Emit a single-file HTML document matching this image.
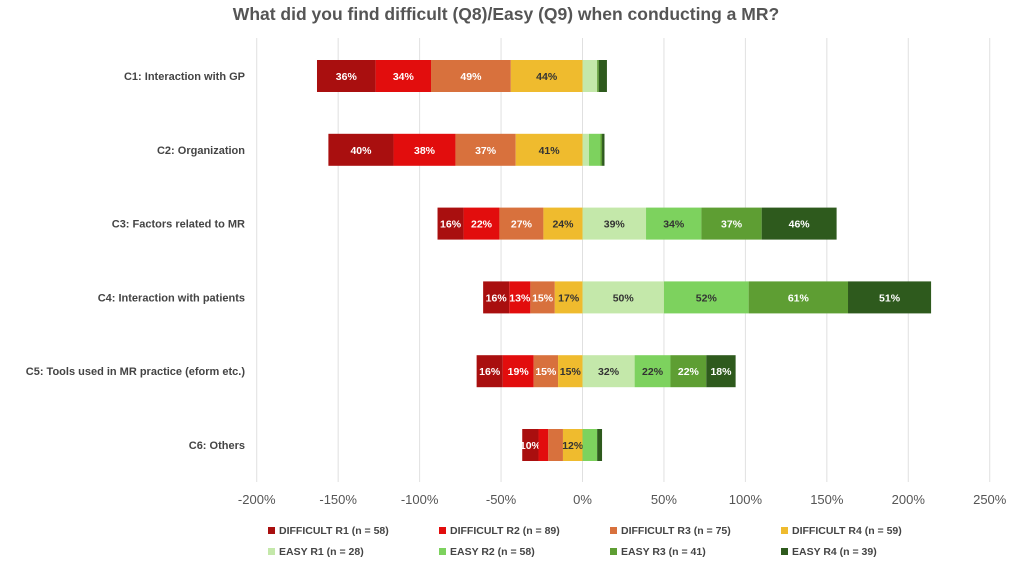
<!DOCTYPE html>
<html><head><meta charset="utf-8"><style>
body{margin:0;background:#fff;font-family:"Liberation Sans",sans-serif}
</style></head><body>
<svg id="chart" width="1010" height="562" xmlns="http://www.w3.org/2000/svg"></svg>
<script>
const categories=["C1: Interaction with GP","C2: Organization","C3: Factors related to MR","C4: Interaction with patients","C5: Tools used in MR practice (eform etc.)","C6: Others"];
const seriesNames=["DIFFICULT R1 (n = 58)","DIFFICULT R2 (n = 89)","DIFFICULT R3 (n = 75)","DIFFICULT R4 (n = 59)","EASY R1 (n = 28)","EASY R2 (n = 58)","EASY R3 (n = 41)","EASY R4 (n = 39)"];
const d1=[36,40,16,16,16,10];
const d2=[34,38,22,13,19,6];
const d3=[49,37,27,15,15,9];
const d4=[44,41,24,17,15,12];
const e1=[9,4,39,50,32,0];
const e2=[0,7,34,52,22,9];
const e3=[1,1,37,61,22,0];
const e4=[5,1.5,46,51,18,3];
const ticks=[-200,-150,-100,-50,0,50,100,150,200,250];
const colors=["#a90f0f","#e20d0d","#d8713d","#efbb2e","#c4e8aa","#7dd25e","#5e9e33","#2e5a1d"];
const textColors=["#fff","#fff","#fff","#333","#333","#333","#fff","#fff"];
const svg=document.getElementById('chart');
const NS="http://www.w3.org/2000/svg";
const x=v=>582.5+v*1.6289;
const y=i=>76+i*73.8;
function mk(t,a,p){const e=document.createElementNS(NS,t);for(const k in a)e.setAttribute(k,a[k]);(p||svg).appendChild(e);return e;}
let t=mk('text',{x:506,y:20,'text-anchor':'middle','font-size':17.5,'font-weight':'bold',fill:'#555'});
t.textContent="What did you find difficult (Q8)/Easy (Q9) when conducting a MR?";


ticks.forEach(v=>{
 const l=mk('line',{x1:x(v),x2:x(v),y1:38,y2:482,stroke:'#e0e0e0','stroke-width':1});
 
 
 const tx=mk('text',{x:x(v),y:504,'text-anchor':'middle','font-size':13,fill:'#555'});
 tx.textContent=v+'%';
 
 
});
categories.forEach((c,i)=>{
 const tx=mk('text',{x:245,y:y(i)+4,'text-anchor':'end','font-size':11,'font-weight':'bold',fill:'#444'});
 tx.textContent=c;
 
 
 const neg=[d1[i],d2[i],d3[i],d4[i]];
 const pos=[e1[i],e2[i],e3[i],e4[i]];
 let start=-(neg[0]+neg[1]+neg[2]+neg[3]);
 const all=neg.concat(pos);
 all.forEach((v,s)=>{
  if(v<=0)return;
  const r=mk('rect',{x:x(start),y:y(i)-16,width:x(start+v)-x(start),height:32,fill:colors[s]});
  
  
  if(v>=10){
   const lt=mk('text',{x:(x(start)+x(start+v))/2,y:y(i)+4,'text-anchor':'middle','font-size':10.5,'font-weight':'bold',fill:textColors[s]});
   lt.textContent=Math.round(v)+'%';
   
   
  }
  start+=v;
 });
});
seriesNames.forEach((n,s)=>{
 const lx=268+(s%4)*171, ly=531+Math.floor(s/4)*21;
 const g=mk('g',{});
 
 
 mk('rect',{x:lx,y:ly-4,width:7,height:7,fill:colors[s]},g);
 const tx=mk('text',{x:lx+11,y:ly+3,'font-size':10.5,'font-weight':'bold',fill:'#444'},g);
 tx.textContent=n;
});
</script>
</body></html>
